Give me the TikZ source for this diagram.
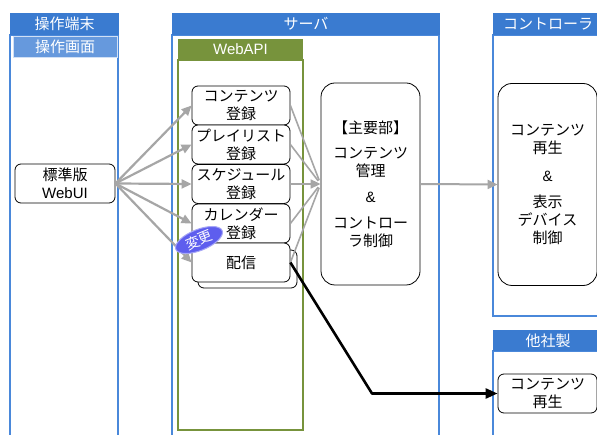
\documentclass[tikz,border=0pt]{standalone}
\usepackage{fontspec}
\setmainfont{Noto Sans CJK JP}
\newfontfamily\latinfont{Liberation Sans}
\usetikzlibrary{arrows.meta,shapes.geometric}
\definecolor{hdrblue}{HTML}{3A7BD0}
\definecolor{subblue}{HTML}{6699DD}
\definecolor{lineblue}{HTML}{4A88DA}
\definecolor{apigreen}{HTML}{77933C}
\definecolor{arrowgrey}{HTML}{A6A6A6}
\definecolor{tagviolet}{HTML}{5E5EEE}

\begin{document}
\begin{tikzpicture}[x=1pt,y=-1pt,
  colbody/.style={draw=lineblue,line width=1.8pt},
  apibody/.style={draw=apigreen,line width=1.8pt},
  header/.style={fill=hdrblue,text=white,inner sep=0pt,minimum height=22pt,
    font=\fontsize{15}{18}\selectfont},
  proc/.style={draw=black,fill=white,rounded corners=6pt,line width=0.8pt,
    align=center,inner sep=0pt,minimum width=98pt,minimum height=39pt,
    font=\fontsize{15}{18}\selectfont},
  bigproc/.style={proc,rounded corners=14pt,minimum width=99pt,minimum height=202pt},
  feed/.style={draw=arrowgrey,line width=2.2pt,-{Triangle[length=10pt,width=9pt]}},
  merge/.style={draw=arrowgrey,line width=1.6pt},
  mergehead/.style={merge,-{Triangle[length=10pt,width=9pt]}},
  deliver/.style={draw=black,line width=2.6pt,line join=round,-{Triangle[length=12pt,width=10pt]}},
]
\useasboundingbox[fill=white] (0,0) rectangle (597,435);

% ---- swimlane columns ----
\draw[colbody] (10,35) rectangle (118,450);
\node[header,minimum width=109pt] (termhdr) at (64.5,24) {操作端末};
\node[fill=subblue,draw=white!70!subblue,line width=0.6pt,text=white,inner sep=0pt,
  minimum width=104pt,minimum height=21pt,font=\fontsize{15}{18}\selectfont]
  (screenhdr) at (65,46.5) {操作画面};

\draw[colbody] (172,35) rectangle (439,450);
\node[header,minimum width=268pt] (serverhdr) at (306,24) {サーバ};

\draw[apibody] (178,60) rectangle (303,430);
\node[header,fill=apigreen,minimum width=125pt,minimum height=21pt,
  font=\latinfont\fontsize{15}{18}\selectfont] (apihdr) at (240.5,49.5) {WebAPI};

\draw[colbody] (493,35) rectangle (620,316);
\node[header,minimum width=110pt] (ctrlhdr) at (548,24) {コントローラ};

\draw[colbody] (493,351) rectangle (620,450);
\node[header,minimum width=110pt,minimum height=21pt] (otherhdr) at (548,340.5) {他社製};

% ---- processes ----
\node[proc,minimum width=100pt] (webui) at (65,183.5) {標準版\\{\latinfont WebUI}};

\node[proc] (reg1) at (241,105.5) {コンテンツ\\登録};
\node[proc] (reg2) at (241,144.5) {プレイリスト\\登録};
\node[proc] (reg3) at (241,184) {スケジュール\\登録};
\node[proc] (reg4) at (241,223.5) {カレンダー\\登録};
\draw[draw=black,fill=white,rounded corners=6pt,line width=0.8pt] (198,250) rectangle (297,288);
\node[proc] (haisin) at (241,262.5) {配信};

\node[bigproc] (core) at (370.5,184) {【主要部】\\[7pt]コンテンツ\\管理\\[8pt]{\latinfont\&}\\[8pt]コントロー\\ラ制御};
\node[bigproc] (player) at (547.5,184.5) {コンテンツ\\再生\\[10pt]{\latinfont\&}\\[8pt]表示\\デバイス\\制御};
\node[proc,minimum width=99pt] (extplayer) at (547.5,393.5) {コンテンツ\\再生};

% ---- connectors ----
\foreach \t in {reg1,reg2,reg3,reg4,haisin}
  \draw[feed] (webui.east) -- (\t.west);
\foreach \s in {reg1,reg2,reg4,haisin}
  \draw[merge,shorten >=4pt] (\s.east) -- (core.west);
\draw[mergehead] (reg3.east) -- (core.west);
\draw[mergehead,line width=2pt] (core.east) -- (player.west);

\coordinate (bend) at (372,393.5);
\draw[deliver] (haisin.east) -- (bend) -- (extplayer.west);

% ---- change tag ----
\node[ellipse,fill=tagviolet,draw=tagviolet!55!white,line width=1pt,text=white,
  rotate=22,minimum width=50pt,minimum height=21pt,inner sep=0pt,
  font=\fontsize{14}{14}\selectfont] (tag) at (199,240) {変更};
\end{tikzpicture}
\end{document}
